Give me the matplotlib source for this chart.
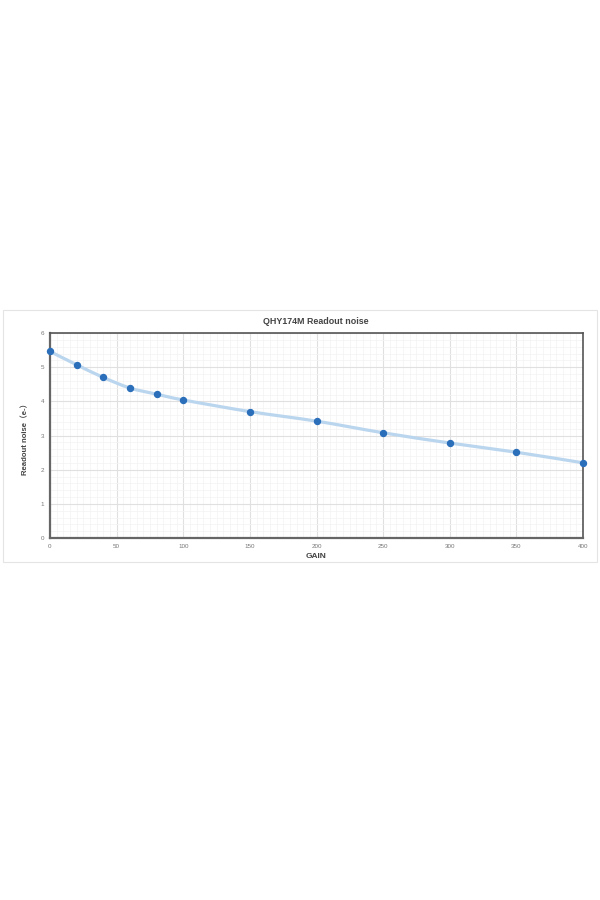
import matplotlib
matplotlib.use("Agg")
import matplotlib.pyplot as plt
import numpy as np
from matplotlib.path import Path
from matplotlib.patches import PathPatch, Rectangle
from matplotlib.ticker import MultipleLocator

gain = [0, 20, 40, 60, 80, 100, 150, 200, 250, 300, 350, 400]
noise = [5.46, 5.07, 4.70, 4.39, 4.21, 4.04, 3.70, 3.42, 3.08, 2.78, 2.51, 2.20]
x_ticks = [0, 50, 100, 150, 200, 250, 300, 350, 400]
y_ticks = [0, 1, 2, 3, 4, 5, 6]
title = "QHY174M Readout noise"
xlabel = "GAIN"
ylabel = "Readout noise（e-）"

fam = ["Liberation Sans", "Noto Sans CJK SC", "DejaVu Sans"]
plt.rcParams["font.family"] = fam

fig = plt.figure(figsize=(6, 9), dpi=100)
fig.patches.append(Rectangle((3/600, 338/900), 594/600, 252/900, transform=fig.transFigure,
                             fill=False, edgecolor="#e4e4e4", linewidth=0.8))
ax = fig.add_axes([50/600, (900-538)/900, 533/600, 205/900])
ax.set_xlim(0, 400)
ax.set_ylim(0, 6)
ax.set_xticks(x_ticks)
ax.set_yticks(y_ticks)
ax.xaxis.set_minor_locator(MultipleLocator(5))
ax.yaxis.set_minor_locator(MultipleLocator(0.2))
ax.grid(which="major", color="#e0e0e0", linewidth=0.8)
ax.grid(which="minor", color="#f3f3f3", linewidth=0.5)
ax.set_axisbelow(True)
ax.tick_params(which="both", length=0, labelsize=4.5, labelcolor="#777777", pad=4)
for s in ["left", "bottom"]:
    ax.spines[s].set_color("#666666")
    ax.spines[s].set_linewidth(1.6)
for s in ["top", "right"]:
    ax.spines[s].set_color("#555555")
    ax.spines[s].set_linewidth(1.2)

# smooth curve through points (Catmull-Rom rendered as Bezier segments)
xs = np.array(gain, float)
ys = np.array(noise, float)
verts = [(xs[0], ys[0])]
codes = [Path.MOVETO]
n = len(xs)
for i in range(n - 1):
    p0 = np.array([xs[max(i-1, 0)], ys[max(i-1, 0)]])
    p1 = np.array([xs[i], ys[i]])
    p2 = np.array([xs[i+1], ys[i+1]])
    p3 = np.array([xs[min(i+2, n-1)], ys[min(i+2, n-1)]])
    c1 = p1 + (p2 - p0) / 6
    c2 = p2 - (p3 - p1) / 6
    verts += [tuple(c1), tuple(c2), tuple(p2)]
    codes += [Path.CURVE4] * 3
ax.add_patch(PathPatch(Path(verts, codes), fill=False, edgecolor="#bad5ee",
                       linewidth=2.3, capstyle="round", zorder=3, clip_on=False))
ax.plot(gain, noise, linestyle="none", marker="o", markersize=4.3,
        color="#2b6fba", zorder=4, clip_on=False)

fig.text(316/600, (900-321)/900, title, ha="center", va="center", fontsize=6.4,
         fontweight="bold", color="#444444", family=fam)
fig.text(316/600, (900-557)/900, xlabel, ha="center", va="center", fontsize=6,
         fontweight="bold", color="#444444", family=fam)
fig.text(25/600, (900-437)/900, ylabel, ha="center", va="center", fontsize=5.6,
         fontweight="bold", color="#444444", rotation=90, family=fam)

fig.savefig("out.png", dpi=100)
